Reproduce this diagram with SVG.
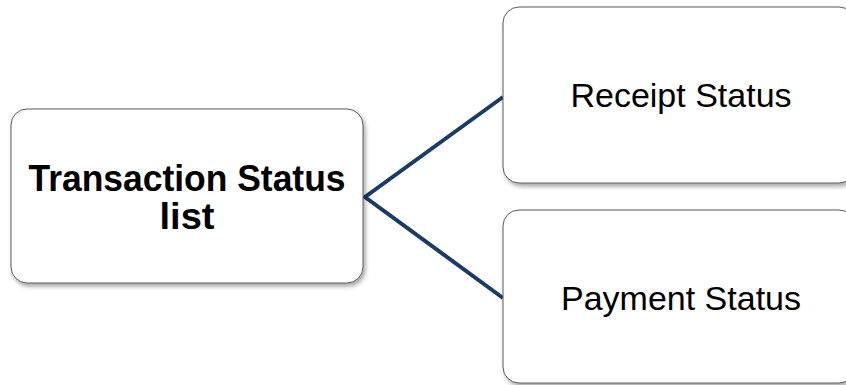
<svg xmlns="http://www.w3.org/2000/svg" width="846" height="385" viewBox="0 0 846 385">
  <defs>
    <filter id="shadow" x="-10%" y="-10%" width="125%" height="130%">
      <feDropShadow dx="2" dy="3" stdDeviation="2" flood-color="#000" flood-opacity="0.35"/>
    </filter>
    <style>
      .box { fill: #ffffff; stroke: #5a5a5a; stroke-width: 1; filter: url(#shadow); }
      .link { fill: none; stroke: #1b3a64; stroke-width: 4; stroke-linejoin: miter; }
      .title { font-family: "Liberation Sans", Arial, sans-serif; font-weight: bold; font-size: 37px; fill: #000; text-anchor: middle; }
      .label { font-family: "Liberation Sans", Arial, sans-serif; font-size: 34px; fill: #000; text-anchor: middle; }
    </style>
  </defs>
  <rect width="846" height="385" fill="#ffffff"/>

  <g id="connectors">
    <polyline class="link" points="503,97 365,197 503,298"/>
  </g>

  <g id="node-transaction">
    <rect class="box" x="11" y="109" width="352" height="174" rx="16"/>
    <text class="title" x="187" y="191" textLength="317" lengthAdjust="spacingAndGlyphs">Transaction Status</text>
    <text class="title" x="187" y="229" textLength="55" lengthAdjust="spacingAndGlyphs">list</text>
  </g>

  <g id="node-receipt">
    <rect class="box" x="503" y="7" width="352" height="176" rx="16"/>
    <text class="label" x="681" y="107">Receipt Status</text>
  </g>

  <g id="node-payment">
    <rect class="box" x="503" y="210" width="352" height="173" rx="16"/>
    <text class="label" x="681" y="310">Payment Status</text>
  </g>
</svg>
